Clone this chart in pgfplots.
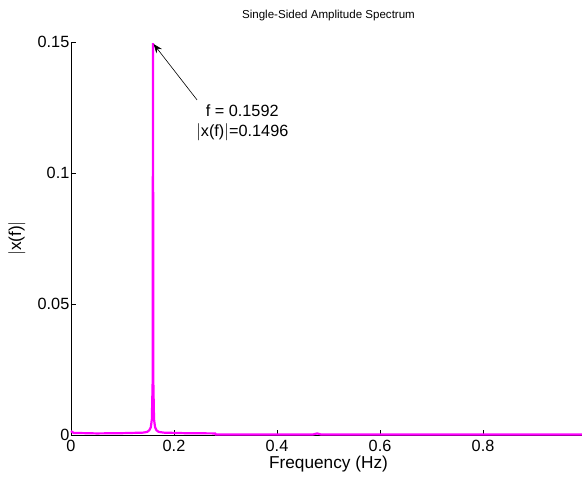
\documentclass[border=0pt]{standalone}
\usepackage{pgfplots}
\pgfplotsset{compat=1.18}
\usetikzlibrary{arrows.meta}
\usepackage{fontspec}
\setmainfont{Liberation Sans}
\definecolor{mmag}{rgb}{1,0,1}
\begin{document}
\begin{tikzpicture}[x=1bp,y=1bp]
\useasboundingbox (0,0) rectangle (582,480);
\begin{axis}[
  at={(71bp,45bp)}, anchor=south west,
  scale only axis, width=515bp, height=393bp,
  xmin=0, xmax=1, ymin=0, ymax=0.15,
  axis lines=left, axis line style={-, black, line width=0.6bp},
  tick align=inside, major tick length=5bp,
  tick style={black, line width=0.5bp},
  xtick={0,0.2,0.4,0.6,0.8,1},
  xticklabels={0,0.2,0.4,0.6,0.8,1},
  ytick={0,0.05,0.1,0.15},
  yticklabels={0,0.05,0.1,0.15},
  /pgf/number format/assume math mode=true,
  tick label style={font=\fontsize{16.3}{19}\selectfont},
  yticklabel style={inner sep=1.5bp},
  xticklabel style={yshift=-2bp},
  xlabel={Frequency (Hz)}, ylabel={$|$x(f)$|$},
  xlabel style={font=\fontsize{17.3}{20}\selectfont, at={(axis description cs:0.5,-0.075)}, anchor=center},
  ylabel style={font=\fontsize{17.3}{20}\selectfont, at={(axis description cs:-0.105,0.5)}, anchor=center, rotate=0},
  title={Single{-}Sided Amplitude Spectrum},
  title style={font=\fontsize{11.6}{13}\selectfont, at={(axis description cs:0.5,1.053)}, anchor=center},
  clip=false,
]
\addplot[mmag, line width=2.2bp] coordinates {
(0,0.0015) (0.005,0.0008) (0.05,0.0006) (0.1,0.0007) (0.14,0.0009)
(0.148,0.0012) (0.152,0.0018) (0.155,0.003) (0.157,0.006) (0.1585,0.02)
(0.1592,0.1496) (0.1599,0.02) (0.1612,0.006) (0.1632,0.003) (0.166,0.0018)
(0.17,0.0012) (0.18,0.0009) (0.22,0.0007) (0.28,0.0006) (0.281,0.0002)
(0.47,0.0002) (0.478,0.0006) (0.485,0.0002) (1,0.0002)
};
\draw[-{Stealth[length=9bp,width=7bp]}, line width=0.6bp] (axis cs:0.2447,0.1279) -- (axis cs:0.1605,0.1492);
\node[font=\fontsize{16.3}{20}\selectfont, align=center, anchor=north] at (axis cs:0.3325,0.1275) {f = 0.1592\\$|$x(f)$|$=0.1496};
\end{axis}
\end{tikzpicture}
\end{document}
